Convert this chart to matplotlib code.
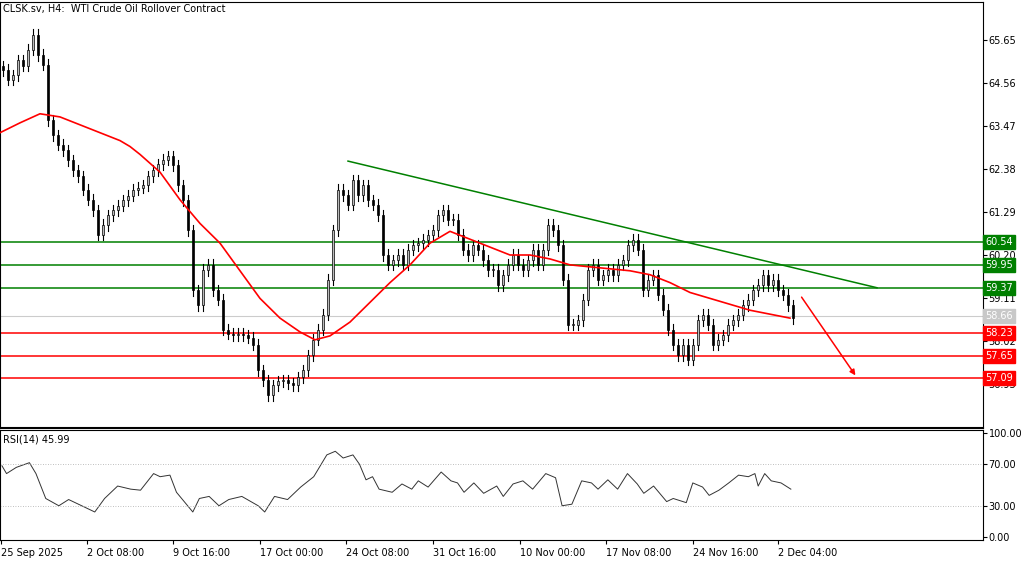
import numpy as np
import matplotlib.pyplot as plt
from matplotlib.patches import Rectangle

# closes every 5 px-units (bar positions)
closes = [64.89, 64.64, 64.76, 65.14, 65.00, 65.40, 65.78, 65.27, 65.02, 63.62,
          63.24, 63.00, 62.86, 62.60, 62.35, 62.20, 61.85, 61.60, 61.34, 60.71,
          60.96, 61.21, 61.34, 61.45, 61.59, 61.70, 61.85, 61.90, 61.97, 62.20,
          62.35, 62.50, 62.61, 62.70, 62.48, 61.97, 61.59, 60.83, 59.31, 58.93,
          59.82, 59.95, 59.31, 59.06, 58.30, 58.20, 58.17, 58.20, 58.17, 58.10,
          57.92, 57.28, 57.03, 56.65, 56.90, 57.00, 57.03, 56.95, 56.90, 57.10,
          57.28, 57.66, 58.05, 58.30, 58.68, 59.57, 60.83, 61.85, 61.72, 61.47,
          62.10, 61.72, 61.97, 61.59, 61.47, 61.21, 60.20, 59.95, 60.07, 60.20,
          59.95, 60.33, 60.45, 60.50, 60.58, 60.70, 60.83, 61.21, 61.34, 61.09,
          61.09, 60.71, 60.33, 60.20, 60.45, 60.33, 60.07, 59.82, 59.82, 59.44,
          59.69, 59.95, 60.20, 59.95, 59.82, 60.07, 60.33, 59.95, 60.33, 60.96,
          60.83, 60.45, 59.57, 58.43, 58.43, 58.55, 59.06, 59.82, 59.95, 59.57,
          59.69, 59.82, 59.69, 59.95, 60.07, 60.45, 60.58, 60.33, 59.31, 59.57,
          59.69, 59.19, 58.81, 58.30, 57.92, 57.66, 57.92, 57.54, 57.92, 58.55,
          58.68, 58.43, 57.92, 58.05, 58.17, 58.43, 58.55, 58.68, 58.93, 59.06,
          59.31, 59.44, 59.69, 59.44, 59.57, 59.31, 59.19, 58.93, 58.60]
bar_step = 5
wick = 0.14

ma_x = [0, 20, 40, 60, 80, 100, 120, 130, 140, 160, 180, 200, 220, 240, 260, 280,
        300, 315, 330, 350, 370, 390, 410, 430, 450, 470, 490, 510, 530, 550, 570,
        590, 610, 630, 650, 670, 690, 710, 730, 750, 770, 790]
ma_y = [63.30, 63.55, 63.78, 63.70, 63.50, 63.30, 63.10, 62.95, 62.75, 62.30, 61.60,
        61.00, 60.50, 59.80, 59.10, 58.60, 58.25, 58.05, 58.15, 58.50, 59.00, 59.50,
        59.95, 60.50, 60.80, 60.60, 60.40, 60.20, 60.20, 60.10, 59.95, 59.90, 59.85,
        59.80, 59.70, 59.50, 59.25, 59.10, 58.95, 58.80, 58.70, 58.60]

rsi_xz = [3, 10, 25, 45, 55, 70, 90, 105, 120, 145, 160, 180, 200, 215, 235, 245, 260,
          270, 295, 305, 320, 335, 350, 370, 395, 405, 420, 440, 460, 480, 500, 513,
          525, 540, 550, 560, 570, 580, 600, 615, 630, 640, 655, 675, 690, 700, 710,
          725, 740, 760, 770, 785, 800, 815, 835, 850, 860, 875, 890, 905, 915, 930,
          945, 960, 975, 985, 1000, 1020, 1030, 1050, 1060, 1075, 1085, 1100, 1115,
          1130, 1145, 1155, 1160, 1170, 1180, 1195, 1210]
rsi_v = [68.5, 61, 67, 71.5, 61, 37, 30, 36, 31.5, 24, 37, 49, 46, 45, 61, 58, 59.5,
         43, 24, 37, 39, 30, 36, 39, 30, 24, 39, 36, 48, 58, 79, 82.5, 76, 79, 70, 55,
         58, 46, 43, 51, 46, 54, 48, 62.5, 54, 52, 43, 52, 42, 49, 39, 51, 54, 46, 61,
         57, 30, 31.5, 54, 52, 46, 55, 46, 61, 51, 42, 49, 34, 37, 33, 52, 48, 40, 45,
         52, 59.5, 58, 61, 49, 61, 54, 52, 46]
rsi_x = [v / 1.53 for v in rsi_xz]

price_ticks = [65.65, 64.56, 63.47, 62.38, 61.29, 60.20, 59.11, 58.02, 56.93]
green_levels = [60.54, 59.95, 59.37]
red_levels = [58.23, 57.65, 57.09]
last_price = 58.66
date_labels = ["25 Sep 2025", "2 Oct 08:00", "9 Oct 16:00", "17 Oct 00:00", "24 Oct 08:00",
               "31 Oct 16:00", "10 Nov 00:00", "17 Nov 08:00", "24 Nov 16:00", "2 Dec 04:00"]
date_x = [1, 87, 173, 260, 346, 433, 520, 606, 693, 778]

W, H = 1024, 561
AXR = 983
fig = plt.figure(figsize=(W / 100, H / 100), dpi=100)
ax = fig.add_axes([0, 1 - 428 / H, AXR / W, 426 / H])
ax2 = fig.add_axes([0, 1 - 540 / H, AXR / W, 110 / H])
y2p = lambda y: 65.65 - (y - 40) * 1.09 / 43
ax.set_ylim(y2p(428), y2p(2))
ax.set_xlim(0, AXR)

for i, c in enumerate(closes):
    o = closes[i - 1] if i > 0 else c + 0.1
    x = i * bar_step + 3
    hi, lo = max(o, c) + wick, min(o, c) - wick
    up = c >= o
    ax.plot([x, x], [lo, hi], color='black', lw=0.8, zorder=3)
    ax.add_patch(Rectangle((x - 1.2, min(o, c)), 2.4, max(abs(c - o), 0.02),
                           facecolor='#bbbbbb' if up else 'black', edgecolor='black',
                           lw=0.5, zorder=4))

ax.plot(ma_x, ma_y, color='red', lw=1.2, zorder=5)

for lv in green_levels:
    ax.axhline(lv, color='green', lw=1.1, zorder=2)
for lv in red_levels:
    ax.axhline(lv, color='red', lw=1.1, zorder=2)
ax.axhline(last_price, color='#cccccc', lw=0.8, zorder=1)

ax.plot([348, 877], [62.58, 59.37], color='green', lw=1.1, zorder=2)
ax.annotate('', xy=(857, 57.09), xytext=(800, 59.19),
            arrowprops=dict(arrowstyle='-|>', color='red', lw=1.1, mutation_scale=8))

ax.yaxis.tick_right()
ax.set_yticks(price_ticks)
ax.set_yticklabels([f"{t:.2f}" for t in price_ticks])
ax.tick_params(axis='y', labelsize=7, length=3, pad=1)
ax.set_xticks([])
for lv, col in [(g, 'green') for g in green_levels] + [(r, 'red') for r in red_levels] + [(last_price, '#c8c8c8')]:
    ax.text(1.002, lv, f"{lv:.2f}", transform=ax.get_yaxis_transform(), fontsize=7,
            color='white', va='center', ha='left', zorder=10,
            bbox=dict(boxstyle='square,pad=0.2', fc=col, ec=col))
ax.text(3, y2p(9), "CLSK.sv, H4:  WTI Crude Oil Rollover Contract", fontsize=7, va='center')

ax2.plot(rsi_x, rsi_v, color='#333333', lw=0.7)
ax2.set_xlim(0, AXR)
ax2.set_ylim(-3, 103)
for lv in [70, 30]:
    ax2.axhline(lv, color='#aaaaaa', lw=0.6, ls=(0, (1, 2)))
ax2.yaxis.tick_right()
ax2.set_yticks([100, 70, 30, 0])
ax2.set_yticklabels(["100.00", "70.00", "30.00", "0.00"])
ax2.tick_params(axis='y', labelsize=7, length=3, pad=1)
ax2.set_xticks(date_x)
ax2.set_xticklabels(date_labels, ha='left')
ax2.tick_params(axis='x', labelsize=7, length=3, pad=3)
ax2.text(3, 94, "RSI(14) 45.99", fontsize=7, va='center')

for a in (ax, ax2):
    for s in a.spines.values():
        s.set_linewidth(0.8)
ax.spines['bottom'].set_linewidth(1.5)

fig.savefig("out.png", dpi=100)
